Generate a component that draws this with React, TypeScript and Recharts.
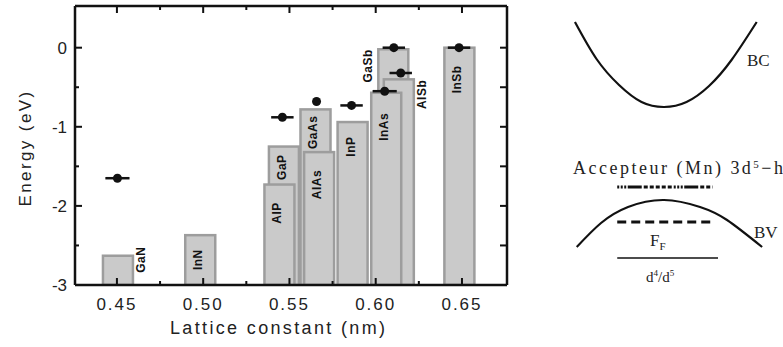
import {
  ComposedChart,
  Bar,
  Scatter,
  ErrorBar,
  Line,
  XAxis,
  YAxis,
  ReferenceLine,
} from 'recharts'

// valence band maxima of the III-V hosts
const compounds = ['GaN', 'InN', 'AlP', 'GaP', 'AlAs', 'GaAs', 'InP', 'InAs', 'GaSb', 'AlSb', 'InSb']
const latticeNm = [0.4506, 0.4983, 0.5442, 0.5468, 0.5672, 0.5651, 0.5866, 0.6061, 0.6102, 0.6134, 0.6485]
const vbmEnergy = [-2.63, -2.37, -1.73, -1.25, -1.32, -0.78, -0.94, -0.57, -0.02, -0.4, 0.0]
const labelSide = ['right', 'in', 'in', 'in', 'in', 'in', 'in', 'in', 'left', 'right', 'in']
const labelEnergy = [-2.68, -2.68, -2.09, -1.51, -1.73, -1.07, -1.25, -1.0, -0.23, -0.59, -0.4]

// Mn acceptor level
const mnLattice = [0.4503, 0.5459, 0.5657, 0.586, 0.6052, 0.6105, 0.6145, 0.6483]
const mnLevel = [-1.65, -0.88, -0.68, -0.73, -0.55, 0.0, -0.32, 0.0]
const mnError = [0.007, 0.0065, 0.002, 0.0065, 0.007, 0.0065, 0.0065, 0.0065]

const xTicks = [0.45, 0.475, 0.5, 0.525, 0.55, 0.575, 0.6, 0.625, 0.65]
const xTickLabels = ['0.45', '', '0.50', '', '0.55', '', '0.60', '', '0.65']
const yTicks = [-3, -2.5, -2, -1.5, -1, -0.5, 0]
const yTickLabels = ['-3', '', '-2', '', '-1', '', '0']

// schematic bands (k, E in arbitrary units)
const bcK = [-0.99, -0.75, -0.5, -0.25, 0, 0.25, 0.5, 0.75, 1.03]
const bcE = [2.78, 2.41, 2.15, 1.98, 1.93, 1.98, 2.14, 2.4, 2.78]
const bvK = [-0.97, -0.7, -0.4, 0, 0.4, 0.7, 1.09]
const bvE = [0.53, 0.77, 0.93, 1.0, 0.93, 0.8, 0.53]
const acceptorE = 1.13
const fermiE = 0.78
const d45E = 0.42

const BASE = -3
const BAR_PX = 30
const X_DOMAIN = [0.4257, 0.6761]
const Y_DOMAIN = [BASE, 0.527]
const AXIS = '#111'
const SANS = '"Liberation Sans", Arial, sans-serif'
const SERIF = '"Liberation Serif", "Times New Roman", serif'

// plot box in px: chart 540x347, margins + axis sizes below
const MARGIN = { top: 6, right: 33, bottom: 22, left: 15 }
const PLOT_TOP = MARGIN.top
const PLOT_RIGHT = 540 - MARGIN.right

const bars = compounds
  .map((name, i) => ({ name, a: latticeNm[i], top: vbmEnergy[i] }))
  .sort((p, q) => q.top - p.top)

const labels = compounds.map((name, i) => ({
  name,
  a: latticeNm[i],
  e: labelEnergy[i],
  side: labelSide[i],
}))

const mnPoints = mnLattice.map((a, i) => ({ a, e: mnLevel[i], err: mnError[i] }))

const bcData = bcK.map((k, i) => ({ k, E: bcE[i] }))
const bvData = bvK.map((k, i) => ({ k, E: bvE[i] }))

const tickText = (list: number[], names: string[], v: number) => {
  const i = list.findIndex((t) => Math.abs(t - v) < 1e-6)
  return i >= 0 ? names[i] : ''
}

// bottom ticks point inward; the same x is mirrored on the top frame
function BottomTick({ x, y, payload }: any) {
  const txt = tickText(xTicks, xTickLabels, payload.value)
  const len = txt ? 7 : 4
  return (
    <g>
      <rect x={x - 1} y={y - len} width={2} height={len} fill={AXIS} />
      <rect x={x - 1} y={PLOT_TOP} width={2} height={len} fill={AXIS} />
      {txt && (
        <text x={x} y={y + 25} textAnchor="middle" fontFamily={SANS} fontSize={17}
          letterSpacing={2} fill="#222">
          {txt}
        </text>
      )}
    </g>
  )
}

// left ticks point inward; the right frame gets a tick at every value
function LeftTick({ x, y, payload }: any) {
  const txt = tickText(yTicks, yTickLabels, payload.value)
  const len = txt ? 7 : 4
  return (
    <g>
      <rect x={x} y={y - 1} width={len} height={2} fill={AXIS} />
      <rect x={PLOT_RIGHT - 7} y={y - 1} width={7} height={2} fill={AXIS} />
      {txt && (
        <text x={x - 8} y={y + 6} textAnchor="end" fontFamily={SANS} fontSize={17} fill="#222">
          {txt}
        </text>
      )}
    </g>
  )
}

// bar width is fixed in pixels, centred on the library's x position
function HostBar({ x, y, width, height }: any) {
  const cx = x + width / 2
  return (
    <rect
      x={cx - BAR_PX / 2}
      y={y}
      width={BAR_PX}
      height={height}
      fill="#cacaca"
      stroke="#9d9d9d"
      strokeWidth={2.5}
    />
  )
}

function CompoundLabel({ cx, cy, payload }: any) {
  const dx = payload.side === 'right' ? 23 : payload.side === 'left' ? -25 : -2
  const x = cx + dx
  return (
    <text
      x={x}
      y={cy}
      transform={`rotate(-90 ${x} ${cy})`}
      textAnchor="middle"
      dominantBaseline="central"
      fontFamily={SANS}
      fontWeight={700}
      fontSize={12}
      letterSpacing={0.5}
      fill="#111"
    >
      {payload.name}
    </text>
  )
}

function MnDot({ cx, cy }: any) {
  return <circle cx={cx} cy={cy} r={4.5} fill="#111" />
}

export default function App() {
  return (
    <div
      style={{
        position: 'absolute',
        left: 0,
        top: 0,
        width: 783,
        height: 347,
        background: '#fff',
        overflow: 'hidden',
      }}
    >
      <div style={{ position: 'absolute', left: 0, top: 0 }}>
        <ComposedChart width={540} height={347} data={bars} margin={MARGIN}>
          <XAxis
            dataKey="a"
            type="number"
            domain={X_DOMAIN}
            allowDataOverflow
            ticks={xTicks}
            interval={0}
            height={40}
            tickSize={0}
            tickMargin={0}
            tickLine={false}
            tick={<BottomTick />}
            axisLine={{ stroke: AXIS, strokeWidth: 2.5 }}
          />
          <YAxis
            type="number"
            domain={Y_DOMAIN}
            allowDataOverflow
            ticks={yTicks}
            interval={0}
            width={60}
            tickSize={0}
            tickMargin={0}
            tickLine={false}
            tick={<LeftTick />}
            axisLine={{ stroke: AXIS, strokeWidth: 2.5 }}
          />
          <Bar
            dataKey={(d: any) => [BASE, d.top]}
            shape={<HostBar />}
            isAnimationActive={false}
          />
          <Scatter
            data={labels}
            dataKey="e"
            shape={<CompoundLabel />}
            isAnimationActive={false}
          />
          <Scatter data={mnPoints} dataKey="e" shape={<MnDot />} isAnimationActive={false}>
            <ErrorBar dataKey="err" direction="x" width={0} stroke="#111" strokeWidth={2.5} />
          </Scatter>
          {/* top and right sides of the frame */}
          <ReferenceLine y={Y_DOMAIN[1]} stroke={AXIS} strokeWidth={2.5} ifOverflow="visible" />
          <ReferenceLine x={X_DOMAIN[1]} stroke={AXIS} strokeWidth={2.5} ifOverflow="visible" />
        </ComposedChart>
      </div>

      <div style={{ position: 'absolute', left: 560, top: 0 }}>
        <ComposedChart width={223} height={347} margin={{ top: 0, right: 0, bottom: 0, left: 0 }}>
          <XAxis dataKey="k" type="number" domain={[-1.156, 1.322]} allowDataOverflow hide />
          <YAxis type="number" domain={[-0.47, 3.0]} allowDataOverflow hide />
          <Line data={bcData} dataKey="E" type="natural" stroke="#111" strokeWidth={2.2}
            dot={false} isAnimationActive={false} />
          <Line data={bvData} dataKey="E" type="natural" stroke="#111" strokeWidth={2.2}
            dot={false} isAnimationActive={false} />
          <ReferenceLine
            segment={[{ x: -0.52, y: acceptorE }, { x: 0.54, y: acceptorE }]}
            stroke="#111"
            strokeWidth={3}
            strokeDasharray="2 1.5 2 1.5 2 1.5 14 2 4 2 4 2 4 2 4 2 4 2"
          />
          <ReferenceLine
            segment={[{ x: -0.52, y: fermiE }, { x: 0.54, y: fermiE }]}
            stroke="#111"
            strokeWidth={3}
            strokeDasharray="9 5"
          />
          <ReferenceLine
            segment={[{ x: -0.52, y: d45E }, { x: 0.6, y: d45E }]}
            stroke="#111"
            strokeWidth={1.3}
          />
        </ComposedChart>
      </div>

      <svg
        width={783}
        height={347}
        style={{ position: 'absolute', left: 0, top: 0, pointerEvents: 'none' }}
      >
        <text
          x={25}
          y={148}
          transform="rotate(-90 25 148)"
          textAnchor="middle"
          dominantBaseline="central"
          fontFamily={SANS}
          fontSize={17}
          letterSpacing={2.4}
          fill="#222"
        >
          Energy (eV)
        </text>
        <text x={170} y={334} fontFamily={SANS} fontSize={18} textLength={215} fill="#222">
          Lattice constant (nm)
        </text>

        <text x={747} y={66} fontFamily={SERIF} fontSize={17} fill="#222">BC</text>
        <text x={754} y={238} fontFamily={SERIF} fontSize={17} fill="#222">BV</text>
        <text x={573} y={174} fontFamily={SERIF} fontSize={18} textLength={210} fill="#222">
          Accepteur (Mn) 3d<tspan dy={-6} fontSize={11}>5</tspan>
          <tspan dy={6}>−h</tspan>
        </text>
        <text x={650} y={246} fontFamily={SERIF} fontSize={17} fill="#222">
          F<tspan dy={4} fontSize={11}>F</tspan>
        </text>
        <text x={646} y={282} fontFamily={SERIF} fontSize={15} fill="#222">
          d<tspan dy={-6} fontSize={9}>4</tspan>
          <tspan dy={6}>/d</tspan>
          <tspan dy={-6} fontSize={9}>5</tspan>
        </text>
      </svg>
    </div>
  )
}
